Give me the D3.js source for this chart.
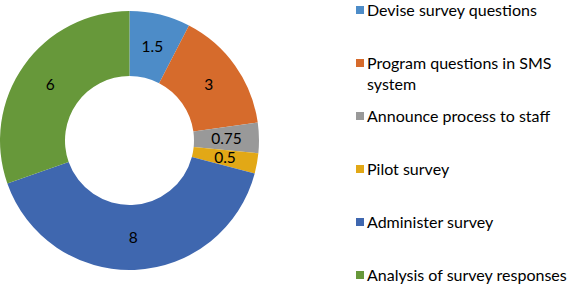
<!DOCTYPE html>
<html>
<head>
<meta charset="utf-8">
<script src="https://cdn.jsdelivr.net/npm/d3@7"></script>
<style>
  html, body { margin: 0; padding: 0; background: #fff; }
  svg { display: block; }
</style>
</head>
<body>
<svg id="chart" width="567" height="285"></svg>
<script>
const categories = [
  "Devise survey questions",
  "Program questions in SMS system",
  "Announce process to staff",
  "Pilot survey",
  "Administer survey",
  "Analysis of survey responses"
];
const legendLines = [
  ["Devise survey questions"],
  ["Program questions in SMS", "system"],
  ["Announce process to staff"],
  ["Pilot survey"],
  ["Administer survey"],
  ["Analysis of survey responses"]
];
const values = [1.5, 3, 0.75, 0.5, 8, 6];
const valueLabels = ["1.5", "3", "0.75", "0.5", "8", "6"];
const colors = ["#4D8CC8", "#D66B2C", "#999999", "#E2A816", "#3F67AF", "#67983A"];

const svg = d3.select("#chart");
const cx = 129.5, cy = 140.5, R = 129.5, r = 64.5;
const font = "Lato, 'Open Sans', sans-serif";

const pie = d3.pie().sort(null).value(d => d)(values);
const arc = d3.arc().innerRadius(r).outerRadius(R);

const g = svg.append("g").attr("transform", `translate(${cx},${cy})`);
g.selectAll("path").data(pie).enter().append("path")
  .attr("d", arc)
  .attr("fill", (d, i) => colors[i]);

g.selectAll("text").data(pie).enter().append("text")
  .attr("transform", d => `translate(${arc.centroid(d)})`)
  .attr("text-anchor", "middle")
  .attr("dy", "0.36em")
  .attr("font-family", font)
  .attr("font-size", "15.5px")
  .attr("fill", "#000")
  .text((d, i) => valueLabels[i]);

const ly = d3.scalePoint().domain(d3.range(categories.length)).range([10, 275]);
const leg = svg.append("g");
categories.forEach((c, i) => {
  const y = ly(i);
  leg.append("rect")
    .attr("x", 356).attr("y", y - 4).attr("width", 8).attr("height", 8)
    .attr("fill", colors[i]);
  const t = leg.append("text")
    .attr("x", 367).attr("y", y + 5.5)
    .attr("font-family", font)
    .attr("font-size", "16px")
    .attr("fill", "#000");
  legendLines[i].forEach((line, j) => {
    t.append("tspan").attr("x", 367).attr("y", y + 5.5 + j * 21.5).text(line);
  });
});
</script>
</body>
</html>
